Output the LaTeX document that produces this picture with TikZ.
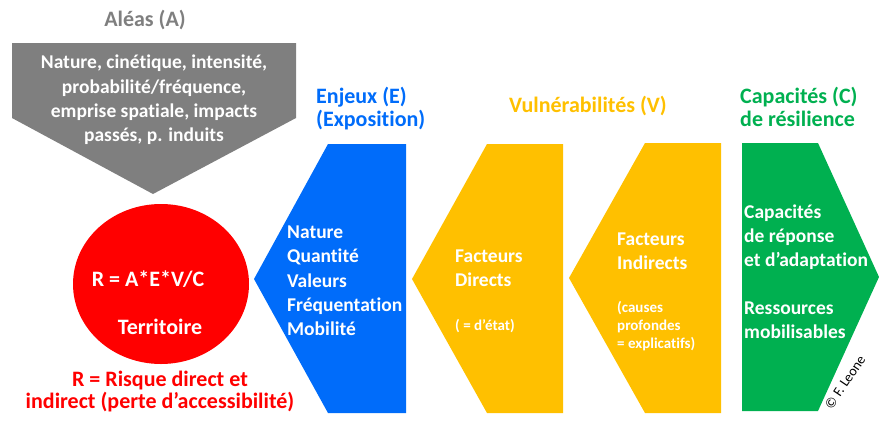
\documentclass[tikz,border=0pt]{standalone}
\usepackage{fontspec}
\setmainfont{Carlito}[RawFeature=-liga]
\definecolor{cgray}{RGB}{127,127,127}
\definecolor{cblue}{RGB}{0,108,250}
\definecolor{cyel}{RGB}{255,192,0}
\definecolor{cgreen}{RGB}{0,176,80}
\definecolor{cred}{RGB}{255,0,0}
\begin{document}
\begin{tikzpicture}[x=1pt,y=-1pt,
  body/.style={font=\bfseries\fontsize{19.5}{24.3}\selectfont, text=white, inner sep=0pt, align=left},
  small/.style={font=\bfseries\fontsize{15}{18}\selectfont, text=white, inner sep=0pt, align=left},
  title/.style={font=\bfseries\fontsize{22}{23.5}\selectfont, inner sep=0pt, align=left},
  big/.style={font=\bfseries\fontsize{22}{22}\selectfont, inner sep=0pt}]
\useasboundingbox (0,0) rectangle (879,421);
% shapes
\fill[cgray] (12,43) -- (296,43) -- (296,118) -- (153,194) -- (12,118) -- cycle;
\fill[cred] (161,284) ellipse [x radius=88, y radius=80];
\fill[cblue] (328,144) -- (406,144) -- (406,413) -- (328,413) -- (254,279) -- cycle;
\fill[cyel] (487,144) -- (563,144) -- (563,413) -- (487,413) -- (412,279) -- cycle;
\fill[cyel] (645,143) -- (721,143) -- (721,413) -- (645,413) -- (569,278) -- cycle;
\fill[cgreen] (742,143) -- (818,143) -- (879,277) -- (818,411) -- (742,411) -- cycle;
% texts
\node[title, text=cgray] (aleas) at (145,20) {Aléas (A)};
\node[body, align=center] (aleastxt) at (154,100) {Nature, cinétique, intensité,\\probabilité/fréquence,\\emprise spatiale, impacts\\passés, p. induits};
\node[title, text=cblue, anchor=west] (enjeux) at (316,108.5) {Enjeux (E)\\(Exposition)};
\node[body, anchor=west] (enjtxt) at (287,281) {Nature\\Quantité\\Valeurs\\Fréquentation\\Mobilité};
\node[title, text=cyel] (vuln) at (588,106) {Vulnérabilités (V)};
\node[body, anchor=west] (fd) at (455,268.5) {Facteurs\\Directs};
\node[small, anchor=west] (fdn) at (455,326) {( = d’état)};
\node[body, anchor=west] (fi) at (617,251) {Facteurs\\Indirects};
\node[small, anchor=west] (fin) at (617,326) {(causes\\profondes\\= explicatifs)};
\node[title, text=cgreen, anchor=west] (cap) at (740,107) {Capacités (C)\\de résilience};
\node[body, anchor=west] (captxt) at (744,237) {Capacités\\de réponse\\et d’adaptation};
\node[body, anchor=west] (res) at (744,320) {Ressources\\mobilisables};
\node[big, text=white] (form) at (148,279) {R = A*E*V/C};
\node[big, text=white] (terr) at (160,327) {Territoire};
\node[big, text=cred, align=center] (risk) at (160,392) {R = Risque direct et\\indirect (perte d’accessibilité)};
\node[font=\fontsize{14}{14}\selectfont, rotate=56, inner sep=0pt] (copy) at (845,382) {© F. Leone};
\end{tikzpicture}
\end{document}
